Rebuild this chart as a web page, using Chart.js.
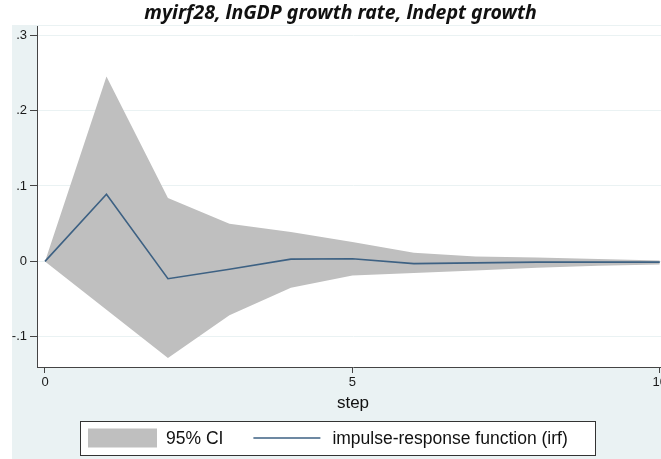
<!DOCTYPE html>
<html>
<head>
<meta charset="utf-8">
<script src="https://cdn.jsdelivr.net/npm/chart.js@4"></script>
<style>
  html, body { margin: 0; padding: 0; background: #fff; overflow: hidden; }
  #wrap { width: 680px; height: 459px; }
</style>
</head>
<body>
<div id="wrap"><canvas id="irfChart" width="680" height="459"></canvas></div>
<script>
// data
let steps = [0, 1, 2, 3, 4, 5, 6, 7, 8, 9, 10];
let irfValues = [0, 0.089, -0.023, -0.0105, 0.003, 0.0035, -0.003, -0.002, -0.001, -0.001, -0.001];
let ciUpper = [0, 0.245, 0.084, 0.05, 0.039, 0.0256, 0.0115, 0.0066, 0.005, 0.003, 0.0013];
let ciLower = [0, -0.064, -0.128, -0.0715, -0.035, -0.0186, -0.0155, -0.012, -0.0084, -0.0057, -0.004];

let xTicks = [0, 5, 10];
let yTicks = [-0.1, 0, 0.1, 0.2, 0.3];
let yTickLabels = ["-.1", "0", ".1", ".2", ".3"];
let legendLabels = ["95% CI", "impulse-response function (irf)"];
let chartTitle = "myirf28, lnGDP growth rate, lndept growth";
let xTitle = "step";

const bgColor = "#eaf2f3";
const axisColor = "#444";
const textFont = "Liberation Sans";

function toPoints(vals) {
  return steps.map((s, i) => ({ x: s, y: vals[i] }));
}

// stata-ish background: bluish graph region, white plot region
const backdrop = {
  id: "backdrop",
  beforeDraw(chart) {
    const { ctx, chartArea: a, width, height } = chart;
    ctx.save();
    ctx.fillStyle = "#fff";
    ctx.fillRect(0, 0, width, height);
    ctx.fillStyle = bgColor;
    ctx.fillRect(12, a.top - 1, width - 12, height - a.top + 1);
    ctx.fillStyle = "#fff";
    ctx.fillRect(a.left, a.top, a.right - a.left, a.bottom - a.top);
    ctx.restore();
  }
};

// boxed legend under the axis title
const boxLegend = {
  id: "boxLegend",
  afterDraw(chart) {
    const ctx = chart.ctx;
    const ci = chart.data.datasets[2];
    const irf = chart.data.datasets[0];
    const f = { left: 80, top: 421, right: 595, bottom: 455 };
    const cy = (f.top + f.bottom) / 2;
    ctx.save();
    ctx.fillStyle = "#fff";
    ctx.fillRect(f.left, f.top, f.right - f.left, f.bottom - f.top);
    ctx.strokeStyle = "#333";
    ctx.lineWidth = 1;
    ctx.strokeRect(f.left + 0.5, f.top + 0.5, f.right - f.left, f.bottom - f.top);

    ctx.font = "17.5px '" + textFont + "'";
    ctx.textBaseline = "middle";

    let x = f.left + 8;
    ctx.fillStyle = ci.backgroundColor;
    ctx.fillRect(x, cy - 9.5, 69, 19);
    x += 69 + 9;
    ctx.fillStyle = "#111";
    ctx.fillText(legendLabels[0], x, cy + 1);
    x += ctx.measureText(legendLabels[0]).width + 30;

    ctx.strokeStyle = irf.borderColor;
    ctx.lineWidth = irf.borderWidth;
    ctx.beginPath();
    ctx.moveTo(x, cy);
    ctx.lineTo(x + 67, cy);
    ctx.stroke();
    x += 67 + 12;
    ctx.fillText(legendLabels[1], x, cy + 1);
    ctx.restore();
  }
};

new Chart(document.getElementById("irfChart"), {
  type: "line",
  data: {
    datasets: [
      {
        label: legendLabels[1],
        data: toPoints(irfValues),
        borderColor: "#3d6183",
        borderWidth: 1.6,
        pointRadius: 0,
        fill: false,
        tension: 0,
        order: 0
      },
      {
        label: "lower",
        data: toPoints(ciLower),
        borderColor: "rgba(0,0,0,0)",
        borderWidth: 1,
        pointRadius: 0,
        fill: false,
        order: 1
      },
      {
        label: legendLabels[0],
        data: toPoints(ciUpper),
        borderColor: "rgba(0,0,0,0)",
        borderWidth: 1,
        backgroundColor: "#bfbfbf",
        pointRadius: 0,
        fill: "-1",
        order: 2
      }
    ]
  },
  options: {
    responsive: false,
    animation: false,
    layout: { padding: { left: 12, right: 11, top: 0, bottom: 0 } },
    plugins: {
      legend: { display: false },
      tooltip: { enabled: false },
      filler: { drawTime: "beforeDatasetsDraw" },
      title: {
        display: true,
        text: chartTitle,
        color: "#111",
        font: { family: "Noto Sans", size: 19.5, weight: "bold", style: "italic", lineHeight: 1.2 },
        padding: { top: 2, bottom: 0.6 }
      }
    },
    scales: {
      x: {
        type: "linear",
        min: -0.13,
        max: 10.15,
        afterBuildTicks: s => { s.ticks = xTicks.map(v => ({ value: v })); },
        afterFit: s => { s.height = 92; },
        grid: { drawOnChartArea: false, tickLength: 6, tickColor: axisColor },
        border: { color: axisColor, width: 1 },
        ticks: {
          color: "#1a1a1a",
          font: { family: textFont, size: 13 },
          padding: 2,
          maxRotation: 0,
          autoSkip: false
        },
        title: {
          display: true,
          text: xTitle,
          color: "#111",
          font: { family: textFont, size: 17 },
          padding: { top: 0, bottom: 45 }
        }
      },
      y: {
        min: -0.14,
        max: 0.312,
        afterBuildTicks: s => { s.ticks = yTicks.map(v => ({ value: v })); },
        afterFit: s => { s.width = 25; },
        grid: { color: bgColor, lineWidth: 1, tickLength: 7, tickColor: axisColor },
        border: { color: axisColor, width: 1 },
        ticks: {
          color: "#1a1a1a",
          font: { family: textFont, size: 13 },
          padding: 3,
          autoSkip: false,
          callback: (v, i) => yTickLabels[i]
        }
      }
    }
  },
  plugins: [backdrop, boxLegend]
});
</script>
</body>
</html>
